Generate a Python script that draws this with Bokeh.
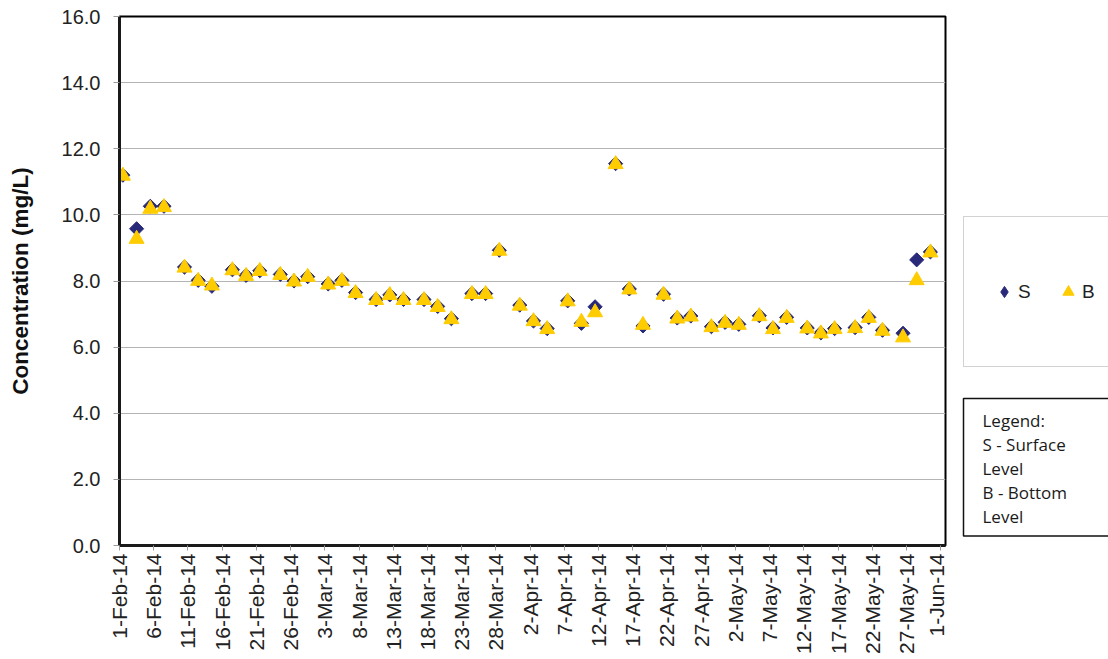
import numpy as np
import pandas as pd
from bokeh.plotting import figure
from bokeh.layouts import row
from bokeh.models import (Range1d, FixedTicker, NumeralTickFormatter, Legend,
                          LegendItem, Label)
from bokeh.embed import file_html
from bokeh.resources import INLINE

# ---------------- data ----------------
sample_dates = [
    "2014-02-01", "2014-02-03", "2014-02-05", "2014-02-07", "2014-02-10", "2014-02-12",
    "2014-02-14", "2014-02-17", "2014-02-19", "2014-02-21", "2014-02-24", "2014-02-26",
    "2014-02-28", "2014-03-03", "2014-03-05", "2014-03-07", "2014-03-10", "2014-03-12",
    "2014-03-14", "2014-03-17", "2014-03-19", "2014-03-21", "2014-03-24", "2014-03-26",
    "2014-03-28", "2014-03-31", "2014-04-02", "2014-04-04", "2014-04-07", "2014-04-09",
    "2014-04-11", "2014-04-14", "2014-04-16", "2014-04-18", "2014-04-21", "2014-04-23",
    "2014-04-25", "2014-04-28", "2014-04-30", "2014-05-02", "2014-05-05", "2014-05-07",
    "2014-05-09", "2014-05-12", "2014-05-14", "2014-05-16", "2014-05-19", "2014-05-21",
    "2014-05-23", "2014-05-26", "2014-05-28", "2014-05-30",
]

surface = [11.20, 9.58, 10.26, 10.26, 8.42, 8.02, 7.84, 8.34, 8.17, 8.31, 8.20, 8.00, 8.13,
           7.91, 8.02, 7.65, 7.44, 7.58, 7.44, 7.44, 7.23, 6.86, 7.62, 7.62, 8.93, 7.27,
           6.79, 6.56, 7.40, 6.72, 7.22, 11.55, 7.76, 6.64, 7.60, 6.88, 6.94, 6.62, 6.75,
           6.69, 6.95, 6.58, 6.90, 6.58, 6.43, 6.56, 6.59, 6.90, 6.51, 6.42, 8.64, 8.88]

bottom = [11.18, 9.27, 10.18, 10.23, 8.40, 8.00, 7.86, 8.32, 8.15, 8.30, 8.18, 7.98, 8.12,
          7.89, 8.00, 7.63, 7.42, 7.57, 7.42, 7.42, 7.21, 6.84, 7.60, 7.60, 8.91, 7.25,
          6.78, 6.54, 7.38, 6.76, 7.05, 11.53, 7.74, 6.67, 7.58, 6.86, 6.92, 6.60, 6.73,
          6.67, 6.93, 6.54, 6.88, 6.56, 6.41, 6.54, 6.57, 6.88, 6.49, 6.29, 8.02, 8.86]

x_tick_labels = ["1-Feb-14", "6-Feb-14", "11-Feb-14", "16-Feb-14", "21-Feb-14", "26-Feb-14",
                 "3-Mar-14", "8-Mar-14", "13-Mar-14", "18-Mar-14", "23-Mar-14", "28-Mar-14",
                 "2-Apr-14", "7-Apr-14", "12-Apr-14", "17-Apr-14", "22-Apr-14", "27-Apr-14",
                 "2-May-14", "7-May-14", "12-May-14", "17-May-14", "22-May-14", "27-May-14",
                 "1-Jun-14"]

y_ticks = [0, 2, 4, 6, 8, 10, 12, 14, 16]

x_start = "2014-02-01 00:00"
x_end = "2014-06-01 17:00"

legend_text = "Legend:\nS - Surface\nLevel\nB - Bottom\nLevel"

S_COLOR = "#29297a"
B_COLOR = "#ffcc00"

# ---------------- helpers ----------------
EPOCH = pd.Timestamp("1970-01-01")
ONE_MS = pd.Timedelta(milliseconds=1)


def to_ms(ts):
    return (pd.to_datetime(ts) - EPOCH) / ONE_MS


# points sit in the middle of their day (date axis "between tick marks")
x_pts = np.asarray(to_ms(sample_dates)) + 12 * 3600 * 1000
tick_ms = [float(to_ms(pd.to_datetime(t, format="%d-%b-%y"))) for t in x_tick_labels]

W, H = 1108, 659
MAIN_W = 947
TOP, BOTTOM = 16, 114
FRAME_BOTTOM = H - BOTTOM  # page y of the plot-area bottom

p = figure(width=MAIN_W, height=H, output_backend="svg", toolbar_location=None,
           x_range=Range1d(float(to_ms(x_start)), float(to_ms(x_end))),
           y_range=Range1d(0, 16),
           min_border_left=119, min_border_right=2, min_border_top=TOP,
           min_border_bottom=BOTTOM)

p.background_fill_color = "white"
p.border_fill_color = "white"
p.outline_line_color = "black"
p.outline_line_width = 2

p.xgrid.grid_line_color = None
p.ygrid.grid_line_color = "#b4b4b4"
p.ygrid.grid_line_width = 1

ya = p.yaxis[0]
ya.ticker = FixedTicker(ticks=y_ticks)
ya.formatter = NumeralTickFormatter(format="0.0")
ya.axis_label = "Concentration (mg/L)"
ya.axis_label_text_font = "Liberation Sans"
ya.axis_label_text_font_style = "bold"
ya.axis_label_text_font_size = "22.5px"
ya.axis_label_text_color = "#111111"
ya.axis_label_standoff = 26
ya.major_label_text_font = "Liberation Sans"
ya.major_label_text_font_size = "20px"
ya.major_label_text_color = "#222222"
ya.major_label_standoff = 13
ya.major_tick_out = 6
ya.major_tick_in = 0
ya.major_tick_line_color = "#9a9a9a"
ya.minor_tick_line_color = None
ya.axis_line_color = "#1a1a1a"
ya.axis_line_width = 3

xa = p.xaxis[0]
xa.ticker = FixedTicker(ticks=tick_ms)
xa.major_label_overrides = {t: lab for t, lab in zip(tick_ms, x_tick_labels)}
xa.major_label_orientation = np.pi / 2
xa.major_label_text_font = "Liberation Sans"
xa.major_label_text_font_size = "21px"
xa.major_label_text_color = "#222222"
xa.major_label_standoff = 3
xa.major_tick_out = 5
xa.major_tick_in = 0
xa.major_tick_line_color = "#9a9a9a"
xa.minor_tick_line_color = None
xa.axis_line_color = "#1a1a1a"
xa.axis_line_width = 3

p.scatter(x_pts, surface, marker="square", angle=np.pi / 4, size=10,
          fill_color=S_COLOR, line_color=S_COLOR)
p.scatter(x_pts, bottom, marker="triangle", size=15,
          fill_color=B_COLOR, line_color=B_COLOR)

# ---------------- side panel with legend boxes ----------------
SIDE_W = W - MAIN_W
q = figure(width=SIDE_W, height=H, output_backend="svg", toolbar_location=None,
           x_range=Range1d(0, SIDE_W), y_range=Range1d(0, H),
           x_axis_location=None, y_axis_location=None,
           min_border_left=0, min_border_right=0, min_border_top=TOP,
           min_border_bottom=BOTTOM)
q.grid.visible = False
q.outline_line_color = None
q.background_fill_color = "white"
q.border_fill_color = "white"

# legend proxies: same series, but they fall far outside this panel's ranges
leg_s = q.scatter(x_pts[:1], surface[:1], marker="diamond",
                  fill_color=S_COLOR, line_color=S_COLOR)
leg_b = q.scatter(x_pts[:1], bottom[:1], marker="triangle",
                  fill_color=B_COLOR, line_color=B_COLOR)

legend = Legend(items=[LegendItem(label="S", renderers=[leg_s]),
                       LegendItem(label="B", renderers=[leg_b])],
                orientation="horizontal", location=(16, FRAME_BOTTOM - 367),
                padding=26, margin=0, spacing=16,
                glyph_width=28, glyph_height=97, label_height=97, label_standoff=0,
                label_text_font="Liberation Sans", label_text_font_size="19px",
                label_text_color="#222222",
                border_line_color="#a6a6a6", border_line_width=1,
                background_fill_color="white", background_fill_alpha=1)
q.add_layout(legend)

note = Label(x=16, y=FRAME_BOTTOM - 398, x_units="screen", y_units="screen",
             anchor="top_left",
             text=legend_text, text_font="Open Sans", text_font_size="17px",
             text_line_height=1.05, text_color="#1a1a1a",
             padding=dict(left=19, right=45, top=10, bottom=8),
             border_line_color="#111111", border_line_width=1.5,
             background_fill_color="white", background_fill_alpha=1)
q.add_layout(note)

layout = row(p, q, spacing=0)
open("out.html", "w").write(file_html(layout, INLINE))
